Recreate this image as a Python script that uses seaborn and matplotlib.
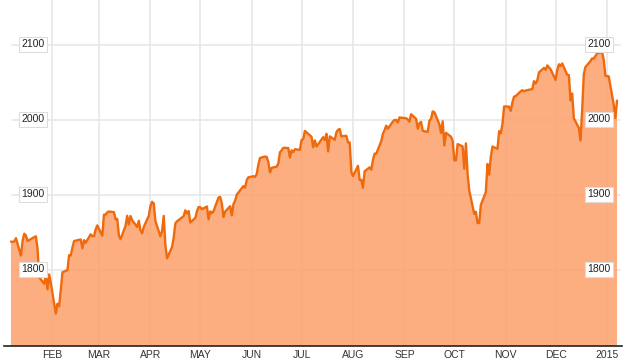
import matplotlib
matplotlib.use("Agg")
import matplotlib.pyplot as plt
import matplotlib.dates as mdates
import matplotlib.transforms as mtransforms
import seaborn as sns
import pandas as pd
import numpy as np

# ---- data: daily closes, Jan 7 2014 .. Jan 7 2015 ----
jan14 = [1837.9, 1837.5, 1838.1, 1842.4, 1819.2, 1838.9, 1848.4, 1845.9, 1838.7,
         1843.8, 1844.9, 1828.5, 1790.3, 1781.6, 1792.5, 1774.2, 1794.2, 1782.6]
feb14 = [1741.9, 1755.2, 1751.6, 1773.4, 1797.0, 1799.8, 1819.8, 1819.3, 1829.8,
         1838.6, 1840.8, 1828.8, 1839.8, 1836.3, 1847.6, 1845.1, 1845.2, 1854.3, 1859.5]
mar14 = [1845.7, 1873.9, 1873.8, 1877.0, 1878.0, 1877.2, 1867.6, 1868.2, 1846.3,
         1841.1, 1858.8, 1872.3, 1860.8, 1872.0, 1866.5, 1857.4, 1865.6, 1852.6,
         1849.0, 1857.6, 1872.3]
apr14 = [1885.5, 1890.9, 1888.8, 1865.1, 1845.0, 1852.0, 1872.2, 1833.1, 1815.7,
         1830.6, 1843.0, 1862.3, 1864.9, 1871.9, 1879.6, 1875.4, 1878.6, 1863.4,
         1869.4, 1878.3, 1884.0]
may14 = [1883.7, 1881.1, 1884.7, 1867.7, 1878.2, 1875.6, 1878.5, 1896.7, 1897.5,
         1888.5, 1870.9, 1877.9, 1885.1, 1872.8, 1888.0, 1892.5, 1900.5, 1911.9,
         1909.8, 1920.0, 1923.6]
jun14 = [1925.0, 1924.2, 1927.9, 1940.5, 1949.4, 1951.3, 1950.8, 1943.9, 1930.1,
         1936.2, 1937.8, 1942.0, 1957.0, 1959.5, 1962.9, 1962.6, 1950.0, 1959.5,
         1957.2, 1961.0, 1960.2]
jul14 = [1973.3, 1974.6, 1985.4, 1977.7, 1963.7, 1972.8, 1964.7, 1967.6, 1977.1,
         1973.3, 1981.6, 1958.1, 1978.2, 1973.6, 1983.5, 1987.0, 1988.0, 1978.3,
         1978.9, 1970.0, 1970.1, 1930.7]
aug14 = [1925.2, 1939.0, 1920.2, 1920.2, 1909.6, 1931.6, 1936.9, 1933.8, 1946.7,
         1955.2, 1955.1, 1971.7, 1981.6, 1986.5, 1992.4, 1988.4, 1997.9, 2000.0,
         2000.1, 1996.7, 2003.4]
sep14 = [2002.3, 2000.7, 1997.7, 2007.7, 2001.5, 1988.4, 1995.7, 1997.5, 1985.5,
         1984.1, 1999.0, 2001.6, 2011.4, 2010.4, 1994.3, 1982.8, 1998.3, 1966.0,
         1982.9, 1977.8, 1972.3]
oct14 = [1946.2, 1946.2, 1967.9, 1964.8, 1935.1, 1968.9, 1928.2, 1906.1, 1874.7,
         1877.7, 1862.5, 1862.8, 1886.8, 1904.0, 1941.3, 1927.1, 1950.8, 1964.6,
         1961.6, 1985.1, 1982.3, 1994.7, 2018.1]
nov14 = [2017.8, 2012.1, 2023.6, 2031.2, 2031.9, 2038.3, 2039.7, 2038.3, 2039.3,
         2039.8, 2041.3, 2051.8, 2048.7, 2052.8, 2063.5, 2069.4, 2067.0, 2072.8, 2067.6]
dec14 = [2053.4, 2066.6, 2074.3, 2071.9, 2075.4, 2060.3, 2059.8, 2026.1, 2035.3,
         2002.3, 1989.6, 1972.7, 2012.9, 2061.2, 2070.7, 2078.5, 2082.2, 2081.9,
         2088.8, 2090.6, 2080.4, 2058.9]
jan15 = [2058.2, 2020.6, 2002.6, 2025.9]

holidays = ["2014-01-20", "2014-02-17", "2014-04-18", "2014-05-26", "2014-07-04",
            "2014-09-01", "2014-11-27", "2014-12-25", "2015-01-01"]
month_labels = ["FEB", "MAR", "APR", "MAY", "JUN", "JUL", "AUG", "SEP", "OCT",
                "NOV", "DEC", "2015"]
y_ticks = [1800, 1900, 2000, 2100]

closes = jan14 + feb14 + mar14 + apr14 + may14 + jun14 + jul14 + aug14 + sep14 + oct14 + nov14 + dec14 + jan15
days = pd.bdate_range("2014-01-07", "2015-01-07")
days = days[~days.isin(pd.to_datetime(holidays))]
n = min(len(days), len(closes))
df = pd.DataFrame({"date": days[:n], "close": closes[:n]})

# ---- figure ----
sns.set_style("white")
plt.rcParams["font.family"] = ["Liberation Sans", "DejaVu Sans"]
fig = plt.figure(figsize=(6.26, 3.63), dpi=100)
ax = fig.add_axes([4 / 626, 17 / 363, 618 / 626, 346 / 363])

x0 = pd.Timestamp("2014-01-07") - pd.Timedelta(days=4.2)
x1 = pd.Timestamp("2015-01-07") + pd.Timedelta(days=3.0)
ax.set_xlim(x0, x1)
ax.set_ylim(1698.7, 2160)

grid_c = "#e6e6e6"
month_starts = pd.date_range("2014-02-01", "2015-01-01", freq="MS")
for d in month_starts:
    ax.axvline(d, color=grid_c, lw=1.1, zorder=1)
for yv in y_ticks:
    ax.axhline(yv, xmin=8 / 618, xmax=616 / 618, color=grid_c, lw=1.1, zorder=1)

ax.fill_between(df["date"], df["close"], 1600, color="#FDA36F", alpha=0.88, lw=0, zorder=2)
sns.lineplot(data=df, x="date", y="close", ax=ax, color="#EF6A0C", lw=1.7, zorder=3)

# y labels in boxes (both sides)
trans = mtransforms.blended_transform_factory(ax.transAxes, ax.transData)
box = dict(boxstyle="square,pad=0.22", fc="white", ec="#dcdcdc", lw=0.8)
for yv in y_ticks:
    ax.text((33 - 4) / 618, yv + 1, str(yv), transform=trans, ha="center", va="center",
            fontsize=7.5, color="#222222", bbox=box, zorder=5)
    ax.text((599 - 4) / 618, yv + 1, str(yv), transform=trans, ha="center", va="center",
            fontsize=7.5, color="#222222", bbox=box, zorder=5)

ax.set_xticks(month_starts)
ax.set_xticklabels(month_labels)
ax.tick_params(axis="x", length=0, pad=3, labelsize=7.5, labelcolor="#333333")
ax.set_yticks([])
ax.set_xlabel("")
ax.set_ylabel("")
for s in ["top", "right", "left"]:
    ax.spines[s].set_visible(False)
ax.spines["bottom"].set_color("#222222")
ax.spines["bottom"].set_linewidth(1.2)
ax.spines["bottom"].set_zorder(6)

fig.savefig("out.png", dpi=100)
